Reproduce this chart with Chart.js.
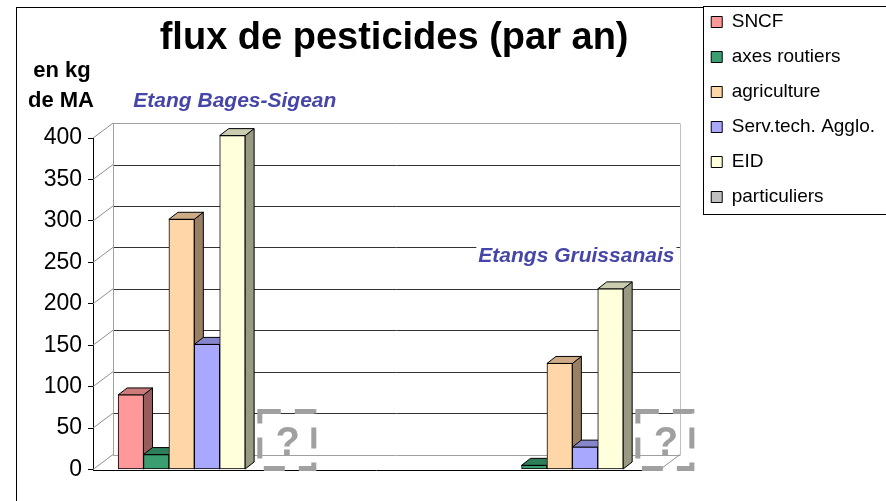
<!DOCTYPE html>
<html>
<head>
<meta charset="utf-8">
<script src="https://cdn.jsdelivr.net/npm/chart.js@4/dist/chart.umd.min.js"></script>
<style>
    html, body { margin: 0; padding: 0; background: #fff; }
    #wrap { width: 886px; height: 501px; }
</style>
</head>
<body>
<div id="wrap"><canvas id="flux-chart" width="886" height="501"></canvas></div>
<script>
// Data (kg de matière active par an)
const sites = ['Etang Bages-Sigean', 'Etangs Gruissanais'];
const seriesNames = ['SNCF', 'axes routiers', 'agriculture', 'Serv.tech. Agglo.', 'EID', 'particuliers'];
const sncf = [90, 0];
const axesRoutiers = [18, 5];
const agriculture = [302, 128];
const servTech = [151, 27];
const eid = [403, 218];
const particuliers = [null, null]; // unknown -> drawn as "?"
const yMax = 400;
const yStep = 50;

const series = [sncf, axesRoutiers, agriculture, servTech, eid, particuliers];
const colors = ['#FF9999', '#3A9E70', '#FFD6A8', '#A8A8FF', '#FFFFDC', '#C0C0C0'];

// 3D look
const WALL = { dx: 20, dy: -15, end: 1.232 };
const BAR = { dx: 9, dy: -7 };

function shade(hex, f) {
    const n = parseInt(hex.slice(1), 16);
    const r = Math.round(((n >> 16) & 255) * f);
    const g = Math.round(((n >> 8) & 255) * f);
    const b = Math.round((n & 255) * f);
    return `rgb(${r}, ${g}, ${b})`;
}

function line(ctx, x1, y1, x2, y2, color) {
    ctx.strokeStyle = color;
    ctx.beginPath();
    ctx.moveTo(x1, y1);
    ctx.lineTo(x2, y2);
    ctx.stroke();
}

function poly(ctx, pts, fill) {
    ctx.beginPath();
    ctx.moveTo(pts[0][0], pts[0][1]);
    for (let i = 1; i < pts.length; i++) ctx.lineTo(pts[i][0], pts[i][1]);
    ctx.closePath();
    ctx.fillStyle = fill;
    ctx.fill();
    ctx.stroke();
}

const pseudo3d = {
    id: 'pseudo3d',
    beforeDraw(chart) {
        const ctx = chart.ctx;
        const lg = chart.legend;
        ctx.save();
        ctx.fillStyle = '#fff';
        ctx.fillRect(0, 0, chart.width, chart.height);
        ctx.strokeStyle = '#000';
        ctx.lineWidth = 1;
        ctx.strokeRect(16.5, 7.5, 1000, 1000);
        // legend frame
        const lx = Math.round(lg.left + 8) + 0.5;
        const ly = Math.round(lg.top + 9) + 0.5;
        ctx.fillRect(lx, ly, 300, 208);
        ctx.strokeRect(lx, ly, 300, 208);
        ctx.restore();
    },
    beforeDatasetsDraw(chart) {
        const ctx = chart.ctx;
        const x = chart.scales.x;
        const y = chart.scales.y;
        const fl = chart.chartArea.left;
        const fr = x.getPixelForValue(WALL.end);
        const bl = fl + WALL.dx;
        const br = fr + WALL.dx;
        const f0 = y.getPixelForValue(0);
        const fTop = y.getPixelForValue(yMax);
        ctx.save();
        ctx.lineWidth = 1;

        // back wall grid lines
        y.ticks.forEach(t => {
            const py = Math.round(y.getPixelForValue(t.value) + WALL.dy) + 0.5;
            const edge = t.value === 0 || t.value === yMax;
            line(ctx, bl, py, br, py, edge ? '#a0a0a0' : '#333');
        });
        // side wall lines
        y.ticks.forEach(t => {
            const py = y.getPixelForValue(t.value);
            line(ctx, fl, py, bl, py + WALL.dy, '#909090');
        });
        const bTop = Math.round(fTop + WALL.dy) + 0.5;
        const b0 = Math.round(f0 + WALL.dy) + 0.5;
        line(ctx, Math.round(bl) + 0.5, b0, Math.round(bl) + 0.5, bTop, '#a0a0a0');
        line(ctx, Math.round(br) + 0.5, b0, Math.round(br) + 0.5, bTop, '#c0c0c0');
        // floor
        line(ctx, fr, f0, br, f0 + WALL.dy, '#909090');
        line(ctx, fl, Math.round(f0) + 0.5, fr, Math.round(f0) + 0.5, '#000');

        // bar sides and tops
        ctx.strokeStyle = '#000';
        for (let i = 0; i < sites.length; i++) {
            series.forEach((vals, k) => {
                const v = vals[i];
                if (v === null || v <= 0) return;
                const el = chart.getDatasetMeta(k).data[i];
                const p = el.getProps(['x', 'y', 'base', 'width'], true);
                const l = p.x - p.width / 2;
                const r = p.x + p.width / 2;
                poly(ctx, [[r, p.y], [r + BAR.dx, p.y + BAR.dy], [r + BAR.dx, p.base + BAR.dy], [r, p.base]], shade(colors[k], 0.6));
                poly(ctx, [[l, p.y], [l + BAR.dx, p.y + BAR.dy], [r + BAR.dx, p.y + BAR.dy], [r, p.y]], shade(colors[k], 0.8));
            });
        }
        ctx.restore();
    },
    afterDatasetsDraw(chart) {
        const ctx = chart.ctx;
        const x = chart.scales.x;
        const y = chart.scales.y;
        const f0 = y.getPixelForValue(0);
        ctx.save();

        // "?" boxes where particuliers is unknown
        const meta = chart.getDatasetMeta(series.length - 1);
        particuliers.forEach((v, i) => {
            if (v !== null) return;
            const cx = meta.data[i].x + 29;
            ctx.strokeStyle = '#a0a0a0';
            ctx.lineWidth = 5;
            ctx.setLineDash([21, 14]);
            ctx.strokeRect(cx - 27, f0 - 58, 54, 57);
            ctx.setLineDash([]);
            ctx.fillStyle = '#a0a0a0';
            ctx.font = 'bold 40px "Liberation Sans", Arial, sans-serif';
            ctx.textAlign = 'center';
            ctx.textBaseline = 'alphabetic';
            ctx.fillText('?', cx + 1, f0 - 15);
        });

        // site names
        const anchors = [{ dx: -61, v: 437 }, { dx: -94, v: 250 }];
        ctx.font = 'italic bold 21px "Liberation Sans", Arial, sans-serif';
        ctx.textAlign = 'left';
        ctx.textBaseline = 'alphabetic';
        sites.forEach((name, i) => {
            const tx = x.getPixelForValue(i) + anchors[i].dx;
            const ty = y.getPixelForValue(anchors[i].v);
            const w = ctx.measureText(name).width;
            ctx.fillStyle = '#fff';
            ctx.fillRect(tx - 2, ty - 16, w + 4, 21);
            ctx.fillStyle = '#4646A8';
            ctx.fillText(name, tx, ty);
        });

        // unit
        ctx.fillStyle = '#000';
        ctx.font = 'bold 22px "Liberation Sans", Arial, sans-serif';
        ctx.textAlign = 'center';
        ctx.fillText('en kg', 62, 77);
        ctx.fillText('de MA', 61, 107);
        ctx.restore();
    }
};

Chart.defaults.font.family = '"Liberation Sans", Arial, sans-serif';
Chart.defaults.color = '#000';

const ctx = document.getElementById('flux-chart').getContext('2d');
const fluxChart = new Chart(ctx, {
    type: 'bar',
    data: {
        datasets: seriesNames.map((name, k) => ({
            label: name,
            data: series[k].map((v, i) => ({ x: i, y: v })),
            backgroundColor: colors[k]
        }))
    },
    options: {
        responsive: false,
        animation: false,
        devicePixelRatio: 1,
        layout: {
            padding: { top: -3.5, right: 1, bottom: 31.5, left: 0 }
        },
        datasets: {
            bar: {
                barThickness: 25.4,
                borderWidth: 1,
                borderColor: '#000',
                borderSkipped: false,
                clip: false
            }
        },
        plugins: {
            title: {
                display: true,
                text: 'flux de pesticides (par an)',
                fullSize: false,
                color: '#000',
                font: { size: 38, weight: 'bold' },
                padding: { top: 19, bottom: 77 }
            },
            legend: {
                position: 'right',
                align: 'start',
                labels: {
                    boxWidth: 11,
                    boxHeight: 11,
                    padding: 16,
                    color: '#000',
                    font: { size: 19 }
                }
            },
            tooltip: { enabled: false }
        },
        scales: {
            x: {
                type: 'linear',
                offset: false,
                min: -0.268,
                max: 1.325,
                display: false
            },
            y: {
                min: 0,
                max: yMax,
                afterFit(scale) { scale.width = 93; },
                ticks: {
                    stepSize: yStep,
                    padding: 6,
                    color: '#000',
                    font: { size: 23 }
                },
                grid: {
                    drawOnChartArea: false,
                    drawTicks: true,
                    tickLength: 5,
                    color: '#000'
                },
                border: { display: true, color: '#000' }
            }
        }
    },
    plugins: [pseudo3d]
});
</script>
</body>
</html>
